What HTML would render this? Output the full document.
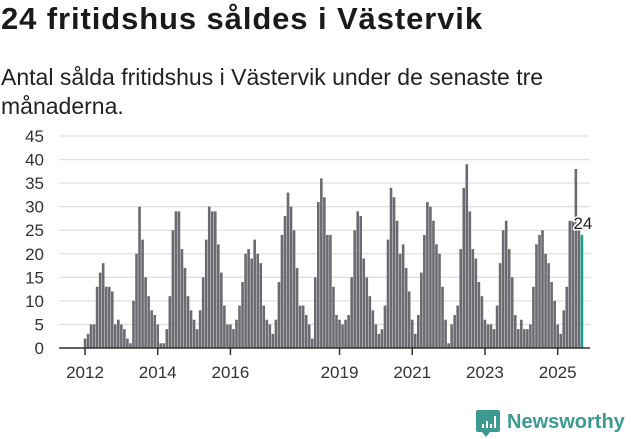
<!DOCTYPE html>
<html><head><meta charset="utf-8"><style>
body{margin:0;width:631px;height:439px;background:#fff;font-family:"Liberation Sans",sans-serif;overflow:hidden;position:relative}
.t{position:absolute;left:1px;top:1px;font-size:31px;font-weight:bold;color:#1a1a1a;letter-spacing:0.9px}
.s{position:absolute;left:1px;top:63px;font-size:23px;line-height:29px;color:#222;width:620px}
svg{position:absolute;left:0;top:0}
</style></head><body>
<div class="t">24 fritidshus såldes i Västervik</div>
<div class="s">Antal sålda fritidshus i Västervik under de senaste tre månaderna.</div>
<svg id="c" width="631" height="439"></svg>
<script>
const values=[2,3,5,5,13,16,18,13,13,12,5,6,
5,4,2,1,10,20,30,23,15,11,8,7,
5,1,1,4,11,25,29,29,21,17,11,8,
6,4,8,15,23,30,29,29,22,16,9,5,
5,4,6,9,14,20,21,19,23,20,18,9,
6,5,3,6,14,24,28,33,30,25,17,9,
9,7,5,2,15,31,36,32,24,24,13,7,
6,5,6,7,15,25,29,28,19,15,11,8,
5,3,4,9,23,34,32,27,20,22,17,12,
6,3,7,16,24,31,30,27,22,20,13,6,
1,5,7,9,21,34,39,29,21,19,14,11,
6,5,5,4,9,18,25,27,21,15,7,4,
6,4,4,5,13,22,24,25,20,18,14,10,
5,3,8,13,27,27,38,26,24];
const yTicks=[0,5,10,15,20,25,30,35,40,45];
const xTickYears=[2012,2014,2016,2019,2021,2023,2025];
const startYear=2012;
const svg=document.getElementById('c');
const NS='http://www.w3.org/2000/svg';
const y=v=>348-v*4.711;
const x=i=>85+i*3.03;
function mk(t,a){const e=document.createElementNS(NS,t);for(const k in a)e.setAttribute(k,a[k]);svg.appendChild(e);return e;}
yTicks.forEach(v=>{
 const g=mk('line',{x1:59,x2:590,y1:y(v),y2:y(v),stroke:'#e0e0e0','stroke-width':1.3});
 
 
 const t=mk('text',{x:44,y:y(v)+6,'text-anchor':'end','font-size':17,fill:'#333','font-family':'Liberation Sans, sans-serif'});
 t.textContent=v;
 
 
});
values.forEach((v,i)=>{
 const last=i===values.length-1;
 const r=mk('rect',{x:x(i)-1.3,y:y(v),width:2.6,height:348-y(v),fill:last?'#1a9a8e':'#6b6a70'});
 
 
});
const ax=mk('line',{x1:59,x2:590,y1:348,y2:348,stroke:'#333','stroke-width':1.5});


xTickYears.forEach(yr=>{
 const xi=x((yr-startYear)*12);
 const tk=mk('line',{x1:xi,x2:xi,y1:348,y2:355,stroke:'#333','stroke-width':1.5});
 
 
 const t=mk('text',{x:xi,y:378,'text-anchor':'middle','font-size':17,fill:'#333','font-family':'Liberation Sans, sans-serif'});
 t.textContent=yr;
 
 
});
const li=values.length-1;
const lab=mk('text',{x:x(li)+1,y:y(values[li])-6,'text-anchor':'middle','font-size':17,fill:'#222',stroke:'#fff','stroke-width':3,'paint-order':'stroke','font-family':'Liberation Sans, sans-serif'});
lab.textContent=values[li];


</script>
<svg width="631" height="439" style="pointer-events:none">
<path d="M478 410 h20 a2 2 0 0 1 2 2 v18 a2 2 0 0 1 -2 2 h-8 l-4 5 l-4 -5 h-4 a2 2 0 0 1 -2 -2 v-18 a2 2 0 0 1 2 -2z" fill="#3d9a90"/>
<rect x="482" y="424" width="2" height="4" fill="#fff"/><rect x="486" y="421" width="2" height="7" fill="#fff"/><rect x="490" y="424" width="2" height="4" fill="#fff"/><rect x="494" y="416" width="2" height="12" fill="#fff"/>
<text x="507" y="428" font-size="20" font-weight="bold" fill="#3d9a90" font-family="Liberation Sans, sans-serif">Newsworthy</text>
</svg>
</body></html>
